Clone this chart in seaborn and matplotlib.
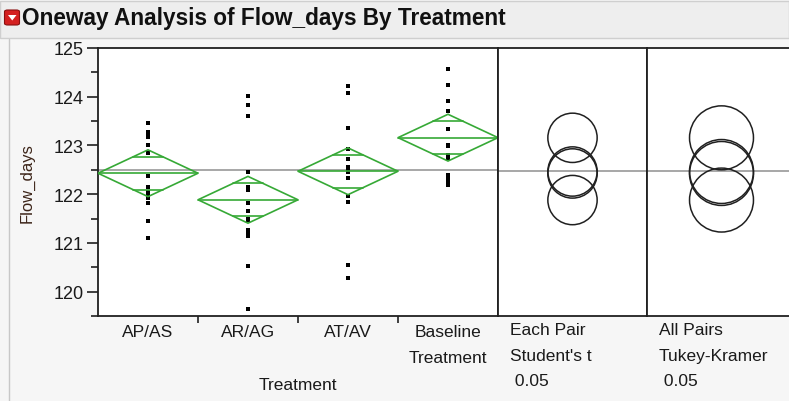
import numpy as np
import pandas as pd
import matplotlib
matplotlib.use("Agg")
import matplotlib.pyplot as plt
from matplotlib.patches import Polygon, Ellipse, Rectangle, FancyBboxPatch
import seaborn as sns

# ---- data -------------------------------------------------------------
treatments = ["AP/AS", "AR/AG", "AT/AV", "Baseline\nTreatment"]
flow_ap_as = [123.46, 123.27, 123.22, 123.18, 123.01, 122.85, 122.38,
              122.14, 122.04, 122.01, 121.92, 121.82, 121.44, 121.11]
flow_ar_ag = [124.01, 123.82, 123.61, 122.45, 122.15, 122.08, 121.82,
              121.65, 121.50, 121.46, 121.26, 121.20, 121.15, 120.52, 119.64]
flow_at_av = [124.23, 124.07, 123.36, 122.93, 122.73, 122.55, 122.51,
              122.45, 122.33, 121.97, 121.84, 120.55, 120.29]
flow_baseline = [124.56, 124.25, 123.91, 123.70, 123.33, 123.01, 122.98,
                 122.81, 122.74, 122.40, 122.35, 122.28, 122.23, 122.18]

group_means = [122.43, 121.885, 122.47, 123.16]   # diamond centres
ci_half = [0.48, 0.48, 0.48, 0.48]                # 95% CI half widths
student_radius = 0.505                            # Each Pair, Student's t
tukey_radius = 0.655                              # All Pairs, Tukey-Kramer
y_ticks = [120, 121, 122, 123, 124, 125]

groups = [flow_ap_as, flow_ar_ag, flow_at_av, flow_baseline]
df = pd.DataFrame({
    "Treatment": np.repeat(treatments, [len(g) for g in groups]),
    "Flow_days": np.concatenate(groups),
})
grand_mean = float(np.mean(group_means))

# ---- figure -----------------------------------------------------------
W, H = 789, 402
sns.set_theme(style="white")
plt.rcParams["font.family"] = ["Liberation Sans", "DejaVu Sans"]
fig = plt.figure(figsize=(W / 100, H / 100), dpi=100, facecolor="#f6f6f6")

def fx(px):
    return px / W

def fy(py):
    return 1 - py / H

# header bar
fig.patches.append(Rectangle((0, fy(39)), 1, fy(2) - fy(39), transform=fig.transFigure,
                             facecolor="#eeeeee", edgecolor="#cfcfcf", lw=1))
fig.patches.append(FancyBboxPatch((fx(4.5), fy(26)), fx(15), fy(11) - fy(26),
                                  boxstyle="round,pad=0,rounding_size=0.004",
                                  transform=fig.transFigure, facecolor="#d42020",
                                  edgecolor="#8a1010", lw=0.8))
fig.patches.append(Polygon([(fx(8), fy(16)), (fx(16.5), fy(16)), (fx(12.25), fy(21.5))],
                           closed=True, transform=fig.transFigure,
                           facecolor="white", edgecolor="none"))
fig.text(fx(22), fy(19), "Oneway Analysis of Flow_days By Treatment",
         fontsize=16.3, fontweight="bold", color="#111111", va="center", ha="left")
# left frame of the report outline
fig.add_artist(plt.Line2D([fx(8.5), fx(8.5)], [fy(40), 0], transform=fig.transFigure,
                          color="#c8c8c8", lw=1))

top, bottom = 49, 317
ymin, ymax = 119.51, 125.0
ax = fig.add_axes([fx(98), fy(bottom), fx(498 - 98), fy(top) - fy(bottom)])
ax_s = fig.add_axes([fx(498), fy(bottom), fx(647 - 498), fy(top) - fy(bottom)])
ax_t = fig.add_axes([fx(647), fy(bottom), fx(796 - 647), fy(top) - fy(bottom)])

green = "#36a936"
for a in (ax, ax_s, ax_t):
    a.set_facecolor("white")
    a.set_ylim(ymin, ymax)
    for s in a.spines.values():
        s.set_color("#202020")
        s.set_linewidth(1.3)
    a.axhline(grand_mean, color="#8f8f8f", lw=1.1, zorder=1)

# raw observations
sns.stripplot(data=df, x="Treatment", y="Flow_days", order=treatments, ax=ax,
              jitter=False, marker="s", size=2.4, color="black", linewidth=0,
              zorder=3)
ax.set_xlim(-0.5, 3.5)

# means diamonds with overlap marks
k = 1 / np.sqrt(2)
for i, (m, h) in enumerate(zip(group_means, ci_half)):
    ax.add_patch(Polygon([(i - 0.5, m), (i, m + h), (i + 0.5, m), (i, m - h)],
                         closed=True, fill=False, edgecolor=green, lw=1.2, zorder=4))
    ax.plot([i - 0.5, i + 0.5], [m, m], color=green, lw=1.2, zorder=4)
    half_w = 0.5 * (1 - k)
    for off in (h * k, -h * k):
        ax.plot([i - half_w, i + half_w], [m + off, m + off], color=green, lw=1.2,
                zorder=4)

# axis styling of the main panel
ax.set_yticks(y_ticks)
ax.set_yticks(np.arange(119.5, 125.01, 0.5), minor=True)
ax.tick_params(axis="y", which="major", direction="out", length=8, width=1.2,
               color="#202020", labelsize=13, labelcolor="#1a1a1a", pad=2, left=True)
ax.tick_params(axis="y", which="minor", direction="out", length=5, width=1.2,
               color="#202020", left=True)
# tick marks sit on the category boundaries; names are centred in each band
ax.set_xticks([0.5, 1.5, 2.5])
ax.set_xticklabels([])
ax.tick_params(axis="x", which="major", direction="out", length=5, width=1.2,
               color="#202020", bottom=True)
for i, name in enumerate(treatments):
    ax.annotate(name, xy=(i, 0), xycoords=("data", "axes fraction"),
                xytext=(0, -6), textcoords="offset points", ha="center", va="top",
                fontsize=12.5, color="#1a1a1a", linespacing=1.85,
                annotation_clip=False)
ax.set_xlabel("Treatment", fontsize=12.5, color="#1a1a1a", va="center")
ax.xaxis.set_label_coords(0.5, -(386 - bottom) / (bottom - top))
ax.set_ylabel("Flow_days", fontsize=12, color="#3c2418", labelpad=14)

# comparison circle panels
def add_circles(a, radius):
    a.set_xlim(0, 1)
    a.set_xticks([])
    a.set_yticks([])
    bbox = a.get_position()
    w_px = bbox.width * W
    h_px = bbox.height * H
    r_px = radius * h_px / (ymax - ymin)
    for m in group_means:
        a.add_patch(Ellipse((0.5, m), 2 * r_px / w_px, 2 * radius, fill=False,
                            edgecolor="#202020", lw=1.1, zorder=3))

add_circles(ax_s, student_radius)
add_circles(ax_t, tukey_radius)

panel_text = [(ax_s, ["Each Pair", "Student's t", " 0.05"]),
              (ax_t, ["All Pairs", "Tukey-Kramer", " 0.05"])]
for a, lines in panel_text:
    x0 = a.get_position().x0 + fx(12)
    for j, line in enumerate(lines):
        fig.text(x0, fy(331 + 25.5 * j), line, fontsize=12.5, color="#1a1a1a",
                 ha="left", va="center")

fig.savefig("out.png", dpi=100, facecolor=fig.get_facecolor())
